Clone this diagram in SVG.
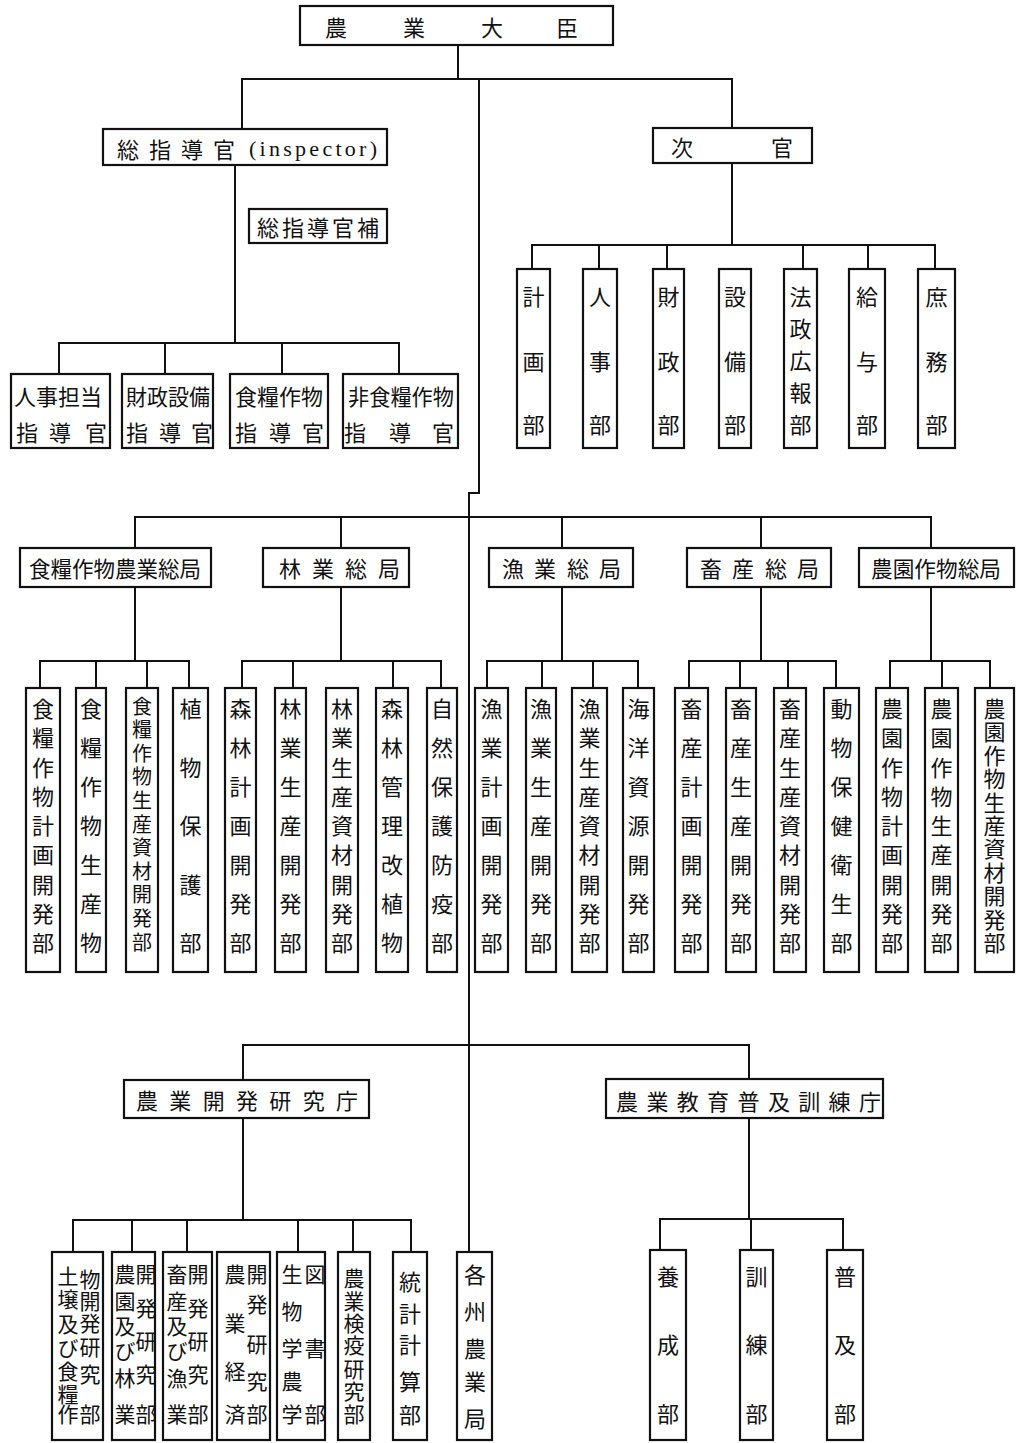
<svg xmlns="http://www.w3.org/2000/svg" width="1017" height="1443" viewBox="0 0 1017 1443">
<style>
.b{fill:#fff;stroke:#111;stroke-width:2.2}
.c{fill:none;stroke:#111;stroke-width:2}
.t{font-family:"Noto Sans CJK JP","Noto Sans CJK SC",sans-serif;font-size:22px;fill:#111;text-anchor:middle;dominant-baseline:central}
.s{font-size:21px}
.xs{font-size:20px}
.l{font-family:"Liberation Serif",serif;font-size:22px;fill:#111;dominant-baseline:central}
</style>
<rect width="1017" height="1443" fill="#fff"/>
<g id="connectors">
<path class="c" d="M458,45V79M242,128V79H732V127M479,79V493H469V1252"/>
<path class="c" d="M235,166V343M59,375V343H399V375M165,343V375M282,343V375"/>
<path class="c" d="M732,163V245M532,269V245H935V269M599,245V269M667,245V269M803,245V269M868,245V269"/>
<path class="c" d="M135,548V517H931V548M341,517V548M562,517V548M761,517V548"/>
<path class="c" d="M135,587V661M40,688V661H189V688M96,661V688M147,661V688"/>
<path class="c" d="M341,587V661M242,688V661H441V688M293,661V688M393,661V688"/>
<path class="c" d="M562,587V661M487,688V661H638V688M542,661V688M593,661V688"/>
<path class="c" d="M761,587V661M689,688V661H836V688M740,661V688M788,661V688"/>
<path class="c" d="M931,587V661M890,688V661H990V688M942,661V688"/>
<path class="c" d="M243,1079V1045H749V1078"/>
<path class="c" d="M243,1118V1220M73,1252V1220H411V1252M132,1220V1252M187,1220V1252M298,1220V1252M353,1220V1252"/>
<path class="c" d="M749,1118V1219M660,1250V1219H843V1250M751,1219V1250"/>
</g>
<g id="minister"><rect class="b" x="300" y="6" width="313" height="39"/><text class="t" x="336 414 492 567" y="26 26 26 26">農業大臣</text></g>
<g id="inspector"><rect class="b" x="103" y="129" width="284" height="36"/><text class="t" x="128 160 192 224" y="148 148 148 148">総指導官</text><text class="l" x="249" y="148" textLength="128" lengthAdjust="spacing">(inspector)</text></g>
<g id="inspector-asst"><rect class="b" x="249" y="209" width="138" height="34"/><text class="t" x="318" y="226" textLength="122" lengthAdjust="spacing">総指導官補</text></g>
<g id="vice"><rect class="b" x="653" y="128" width="159" height="35"/><text class="t" x="682 782" y="146 146">次官</text></g>
<g id="insp1"><rect class="b" x="11" y="374" width="99" height="74"/><text class="t" x="58" y="395" textLength="88" lengthAdjust="spacingAndGlyphs">人事担当</text><text class="t" x="27 60 96" y="431 431 431">指導官</text></g>
<g id="insp2"><rect class="b" x="122" y="374" width="91" height="74"/><text class="t" x="168" y="395" textLength="84" lengthAdjust="spacingAndGlyphs">財政設備</text><text class="t" x="137 170 202" y="431 431 431">指導官</text></g>
<g id="insp3"><rect class="b" x="230" y="374" width="98" height="74"/><text class="t" x="279" y="395" textLength="88" lengthAdjust="spacingAndGlyphs">食糧作物</text><text class="t" x="246 280 313" y="431 431 431">指導官</text></g>
<g id="insp4"><rect class="b" x="343" y="374" width="115" height="74"/><text class="t" x="401" y="395" textLength="106" lengthAdjust="spacingAndGlyphs">非食糧作物</text><text class="t" x="355 400 443" y="431 431 431">指導官</text></g>
<g id="v1"><rect class="b" x="517" y="269" width="33" height="179"/><text class="t" x="533.5 533.5 533.5" y="295 360 423">計画部</text></g>
<g id="v2"><rect class="b" x="583" y="269" width="34" height="179"/><text class="t" x="600 600 600" y="295 360 423">人事部</text></g>
<g id="v3"><rect class="b" x="653" y="269" width="31" height="179"/><text class="t" x="668.5 668.5 668.5" y="295 360 423">財政部</text></g>
<g id="v4"><rect class="b" x="719" y="269" width="32" height="179"/><text class="t" x="735 735 735" y="295 360 423">設備部</text></g>
<g id="v5"><rect class="b" x="784" y="269" width="33" height="179"/><text class="t" x="800.5 800.5 800.5 800.5 800.5" y="295 327 359 391 423">法政広報部</text></g>
<g id="v6"><rect class="b" x="849" y="269" width="36" height="179"/><text class="t" x="867 867 867" y="295 360 423">給与部</text></g>
<g id="v7"><rect class="b" x="918" y="269" width="37" height="179"/><text class="t" x="936.5 936.5 936.5" y="295 360 423">庶務部</text></g>
<g id="bureau1"><rect class="b" x="20" y="548" width="191" height="39"/><text class="t" x="115" y="567" textLength="172" lengthAdjust="spacingAndGlyphs">食糧作物農業総局</text></g>
<g id="bureau2"><rect class="b" x="263" y="548" width="146" height="39"/><text class="t" x="290 323 356 389" y="567 567 567 567">林業総局</text></g>
<g id="bureau3"><rect class="b" x="489" y="548" width="144" height="39"/><text class="t" x="513 545 578 610" y="567 567 567 567">漁業総局</text></g>
<g id="bureau4"><rect class="b" x="687" y="548" width="144" height="39"/><text class="t" x="711 743 776 808" y="567 567 567 567">畜産総局</text></g>
<g id="bureau5"><rect class="b" x="859" y="548" width="155" height="39"/><text class="t" x="936" y="567" textLength="130" lengthAdjust="spacingAndGlyphs">農園作物総局</text></g>
<g id="d1"><rect class="b" x="26" y="688" width="34" height="284"/><text class="t" x="43 43 43 43 43 43 43 43 43" y="707 736 765.5 795 824 853 882.5 912 941">食糧作物計画開発部</text></g>
<g id="d2"><rect class="b" x="76" y="688" width="30" height="284"/><text class="t" x="91 91 91 91 91 91 91" y="707 746 785 824 863 902 941">食糧作物生産物</text></g>
<g id="d3"><rect class="b" x="126" y="688" width="32" height="284"/><text class="t xs" x="142 142 142 142 142 142 142 142 142 142 142" y="705 728.6 752.2 775.8 799.4 823 846.6 870.2 893.8 917.4 941">食糧作物生産資材開発部</text></g>
<g id="d4"><rect class="b" x="173" y="688" width="35" height="284"/><text class="t" x="190.5 190.5 190.5 190.5 190.5" y="707 765.5 824 882.5 941">植物保護部</text></g>
<g id="d5"><rect class="b" x="225" y="688" width="31" height="284"/><text class="t" x="240.5 240.5 240.5 240.5 240.5 240.5 240.5" y="707 746 785 824 863 902 941">森林計画開発部</text></g>
<g id="d6"><rect class="b" x="275" y="688" width="31" height="284"/><text class="t" x="290.5 290.5 290.5 290.5 290.5 290.5 290.5" y="707 746 785 824 863 902 941">林業生産開発部</text></g>
<g id="d7"><rect class="b" x="326" y="688" width="32" height="284"/><text class="t" x="342 342 342 342 342 342 342 342 342" y="707 736 765.5 795 824 853 882.5 912 941">林業生産資材開発部</text></g>
<g id="d8"><rect class="b" x="376" y="688" width="32" height="284"/><text class="t" x="392 392 392 392 392 392 392" y="707 746 785 824 863 902 941">森林管理改植物</text></g>
<g id="d9"><rect class="b" x="427" y="688" width="30" height="284"/><text class="t" x="442 442 442 442 442 442 442" y="707 746 785 824 863 902 941">自然保護防疫部</text></g>
<g id="d10"><rect class="b" x="475" y="688" width="33" height="284"/><text class="t" x="491.5 491.5 491.5 491.5 491.5 491.5 491.5" y="707 746 785 824 863 902 941">漁業計画開発部</text></g>
<g id="d11"><rect class="b" x="526" y="688" width="30" height="284"/><text class="t" x="541 541 541 541 541 541 541" y="707 746 785 824 863 902 941">漁業生産開発部</text></g>
<g id="d12"><rect class="b" x="572" y="688" width="35" height="284"/><text class="t" x="589.5 589.5 589.5 589.5 589.5 589.5 589.5 589.5 589.5" y="707 736 765.5 795 824 853 882.5 912 941">漁業生産資材開発部</text></g>
<g id="d13"><rect class="b" x="623" y="688" width="31" height="284"/><text class="t" x="638.5 638.5 638.5 638.5 638.5 638.5 638.5" y="707 746 785 824 863 902 941">海洋資源開発部</text></g>
<g id="d14"><rect class="b" x="675" y="688" width="33" height="284"/><text class="t" x="691.5 691.5 691.5 691.5 691.5 691.5 691.5" y="707 746 785 824 863 902 941">畜産計画開発部</text></g>
<g id="d15"><rect class="b" x="726" y="688" width="30" height="284"/><text class="t" x="741 741 741 741 741 741 741" y="707 746 785 824 863 902 941">畜産生産開発部</text></g>
<g id="d16"><rect class="b" x="774" y="688" width="32" height="284"/><text class="t" x="790 790 790 790 790 790 790 790 790" y="707 736 765.5 795 824 853 882.5 912 941">畜産生産資材開発部</text></g>
<g id="d17"><rect class="b" x="824" y="688" width="35" height="284"/><text class="t" x="841.5 841.5 841.5 841.5 841.5 841.5 841.5" y="707 746 785 824 863 902 941">動物保健衛生部</text></g>
<g id="d18"><rect class="b" x="876" y="688" width="32" height="284"/><text class="t" x="892 892 892 892 892 892 892 892 892" y="707 736 765.5 795 824 853 882.5 912 941">農園作物計画開発部</text></g>
<g id="d19"><rect class="b" x="925" y="688" width="33" height="284"/><text class="t" x="941.5 941.5 941.5 941.5 941.5 941.5 941.5 941.5 941.5" y="707 736 765.5 795 824 853 882.5 912 941">農園作物生産開発部</text></g>
<g id="d20"><rect class="b" x="975" y="688" width="39" height="284"/><text class="t" x="994.5 994.5 994.5 994.5 994.5 994.5 994.5 994.5 994.5 994.5 994.5" y="707 730.4 753.8 777.2 800.6 824 847.4 870.8 894.2 917.6 941">農園作物生産資材開発部</text></g>
<g id="agency1"><rect class="b" x="124" y="1080" width="245" height="38"/><text class="t" x="147 180.3 213.7 247 280.3 313.7 347" y="1099 1099 1099 1099 1099 1099 1099">農業開発研究庁</text></g>
<g id="agency2"><rect class="b" x="606" y="1079" width="277" height="39"/><text class="t" x="627 657.4 687.8 718.1 748.5 778.9 809.3 839.6 870" y="1100 1100 1100 1100 1100 1100 1100 1100 1100">農業教育普及訓練庁</text></g>
<g id="r1"><rect class="b" x="52" y="1252" width="51" height="188"/><text class="t s" x="68 68 68 68 68 68 68" y="1275 1298 1323 1347 1370 1393 1413">土壌及び食糧作</text><text class="t s" x="90 90 90 90 90 90" y="1278 1300 1322 1346 1373 1413">物開発研究部</text></g>
<g id="r2"><rect class="b" x="112" y="1252" width="43" height="188"/><text class="t s" x="125 125 125 125 125 125" y="1273 1300 1325 1350 1377 1413">農園及び林業</text><text class="t s" x="146 146 146 146 146" y="1273 1307 1340 1373 1413">開発研究部</text></g>
<g id="r3"><rect class="b" x="163" y="1252" width="49" height="188"/><text class="t s" x="177 177 177 177 177 177" y="1273 1300 1325 1350 1377 1413">畜産及び漁業</text><text class="t s" x="198 198 198 198 198" y="1273 1307 1340 1373 1413">開発研究部</text></g>
<g id="r4"><rect class="b" x="217" y="1252" width="53" height="188"/><text class="t s" x="235 235 235 235" y="1273 1322 1370 1413">農業経済</text><text class="t s" x="257 257 257 257 257" y="1273 1303 1343 1380 1413">開発研究部</text></g>
<g id="r5"><rect class="b" x="277" y="1252" width="48" height="188"/><text class="t s" x="292 292 292 292 292" y="1273 1310 1347 1380 1413">生物学農学</text><text class="t s" x="315 315 315" y="1273 1347 1413">図書部</text></g>
<g id="r6"><rect class="b" x="338" y="1252" width="32" height="188"/><text class="t s" x="354 354 354 354 354 354 354" y="1277 1300 1322 1344 1368 1390 1413">農業検疫研究部</text></g>
<g id="r7"><rect class="b" x="393" y="1252" width="34" height="188"/><text class="t" x="410 410 410 410 410" y="1280 1312 1343 1380 1413">統計計算部</text></g>
<g id="r8"><rect class="b" x="457" y="1252" width="35" height="188"/><text class="t" x="475 475 475 475 475" y="1273 1310 1347 1380 1417">各州農業局</text></g>
<g id="e1"><rect class="b" x="650" y="1250" width="36" height="190"/><text class="t" x="668 668 668" y="1275 1343 1412">養成部</text></g>
<g id="e2"><rect class="b" x="740" y="1250" width="33" height="190"/><text class="t" x="756.5 756.5 756.5" y="1275 1343 1412">訓練部</text></g>
<g id="e3"><rect class="b" x="827" y="1250" width="36" height="190"/><text class="t" x="845 845 845" y="1275 1343 1412">普及部</text></g>
</svg>
